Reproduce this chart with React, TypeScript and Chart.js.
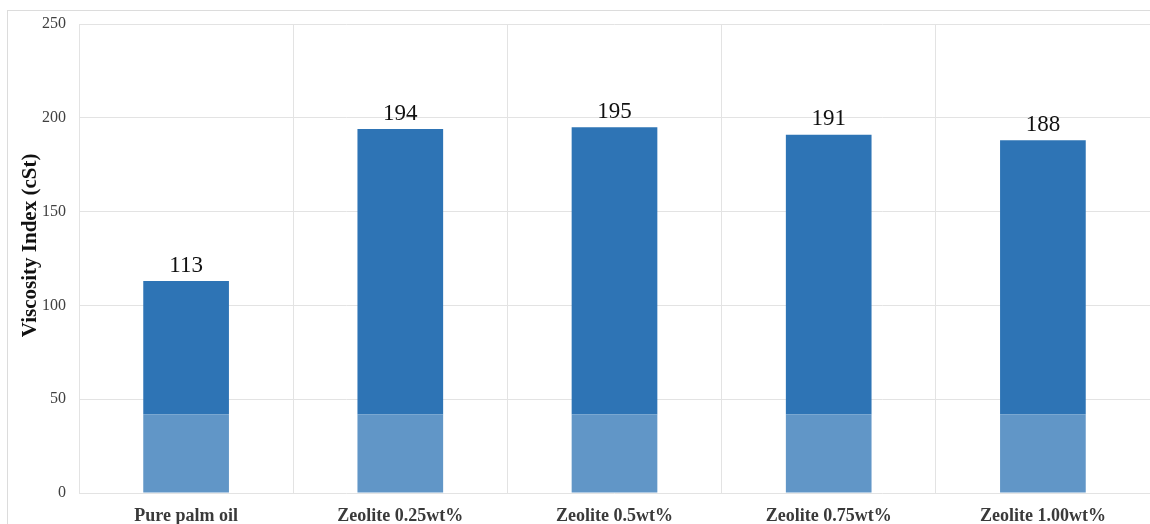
import React, { useEffect, useRef } from "react";
import { Chart, registerables } from "chart.js";

Chart.register(...registerables);

const categories = ["Pure palm oil", "Zeolite 0.25wt%", "Zeolite 0.5wt%", "Zeolite 0.75wt%", "Zeolite 1.00wt%"];
const viscosityIndex = [113, 194, 195, 191, 188];
const lightBase = [42, 42, 42, 42, 42];
const yTicks = [0, 50, 100, 150, 200, 250];

const SERIF = "'Liberation Serif', 'Times New Roman', serif";

const valueLabels = {
  id: "valueLabels",
  afterDatasetsDraw(chart: any) {
    const { ctx } = chart;
    const meta = chart.getDatasetMeta(1);
    ctx.save();
    ctx.font = `23px ${SERIF}`;
    ctx.fillStyle = "#111";
    ctx.textAlign = "center";
    ctx.textBaseline = "bottom";
    meta.data.forEach((bar: any, i: number) => {
      ctx.fillText(String(viscosityIndex[i]), bar.x, bar.y - 4);
    });
    ctx.restore();
  },
};

export default function App() {
  const ref = useRef<HTMLCanvasElement>(null);
  useEffect(() => {
    if (!ref.current) return;
    const chart = new Chart(ref.current, {
      type: "bar",
      data: {
        labels: categories,
        datasets: [
          {
            label: "base",
            data: lightBase,
            backgroundColor: "#6196c7",
            barPercentage: 0.4,
            categoryPercentage: 1,
          },
          {
            label: "Viscosity Index",
            data: viscosityIndex.map((v, i) => v - lightBase[i]),
            backgroundColor: "#2e74b5",
            barPercentage: 0.4,
            categoryPercentage: 1,
          },
        ],
      },
      options: {
        responsive: false,
        animation: false,
        layout: { padding: { top: 24, left: 0, right: 0, bottom: 0 } },
        plugins: { legend: { display: false }, tooltip: { enabled: false } },
        scales: {
          x: {
            stacked: true,
            afterFit: (scale: any) => {
              scale.height = 31;
            },
            grid: { color: "#e3e3e3", drawTicks: false, offset: true },
            border: { display: false },
            ticks: {
              padding: 13,
              color: "#3a3a3a",
              font: { family: SERIF, size: 18, weight: "bold" },
              maxRotation: 0,
            },
          },
          y: {
            stacked: true,
            min: 0,
            max: 250,
            afterBuildTicks: (scale: any) => {
              scale.ticks = yTicks.map((v) => ({ value: v }));
            },
            afterFit: (scale: any) => {
              scale.width = 79;
            },
            grid: { color: "#e3e3e3", drawTicks: false },
            border: { display: false },
            ticks: {
              padding: 13,
              color: "#404040",
              font: { family: SERIF, size: 16 },
            },
            title: {
              display: true,
              text: "     Viscosity Index (cSt)",
              color: "#111",
              font: { family: SERIF, size: 21, weight: "bold" },
              padding: { top: 18, bottom: 0 },
            },
          },
        },
      },
      plugins: [valueLabels],
    });
    return () => chart.destroy();
  }, []);

  return (
    <div style={{ position: "fixed", left: 0, top: 0, width: 1150, height: 524, background: "#fff" }}>
      <div
        style={{
          position: "absolute",
          left: 7,
          top: 10,
          right: -10,
          bottom: -10,
          borderLeft: "1px solid #dcdcdc",
          borderTop: "1px solid #dcdcdc",
        }}
      />
      <canvas ref={ref} width={1150} height={524} style={{ position: "absolute", left: 0, top: 0 }} />
    </div>
  );
}
